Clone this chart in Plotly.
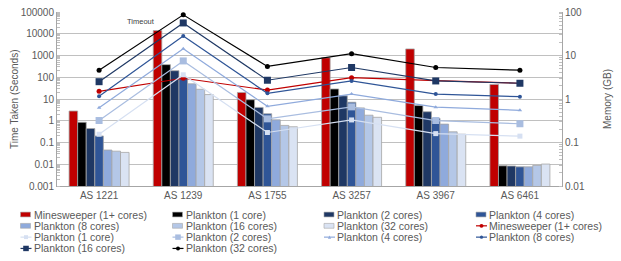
import plotly.graph_objects as go

categories = ["AS 1221", "AS 1239", "AS 1755", "AS 3257", "AS 3967", "AS 6461"]

# Time taken (seconds) - bars, left axis
time_minesweeper = [2.8, 14000, 20, 790, 2000, 47]
time_p1 = [0.85, 380, 9.3, 29, 5.0, 0.0085]
time_p2 = [0.44, 200, 4.1, 14, 2.6, 0.0083]
time_p4 = [0.20, 95, 2.1, 7.1, 1.3, 0.0076]
time_p8 = [0.045, 50, 1.1, 3.9, 0.70, 0.0076]
time_p16 = [0.040, 28, 0.61, 1.8, 0.31, 0.0089]
time_p32 = [0.035, 16, 0.53, 1.44, 0.24, 0.0102]

# Memory (GB) - lines, right axis
mem_minesweeper = [1.5, 3.0, 1.6, 3.1, 2.65, 2.3]
mem_p1 = [0.155, 3.6, 0.17, 0.33, 0.16, 0.14]
mem_p2 = [0.32, 7.5, 0.35, 0.66, 0.32, 0.27]
mem_p4 = [0.63, 14.3, 0.68, 1.3, 0.65, 0.55]
mem_p8 = [1.15, 28, 1.35, 2.6, 1.3, 1.13]
mem_p16 = [2.5, 56, 2.7, 5.3, 2.6, 2.3]
mem_p32 = [4.6, 86, 5.6, 11, 5.3, 4.6]

left_tickvals = [0.001, 0.01, 0.1, 1, 10, 100, 1000, 10000, 100000]
left_ticktext = ["0.001", "0.01", "0.1", "1", "10", "100", "1000", "10000", "100000"]
right_tickvals = [0.01, 0.1, 1, 10, 100]
right_ticktext = ["0.01", "0.1", "1", "10", "100"]

bar_series = [
    ("Minesweeper (1+ cores)", time_minesweeper, "#C00000"),
    ("Plankton (1 core)", time_p1, "#000000"),
    ("Plankton (2 cores)", time_p2, "#1F3864"),
    ("Plankton (4 cores)", time_p4, "#2F5597"),
    ("Plankton (8 cores)", time_p8, "#8FAADC"),
    ("Plankton (16 cores)", time_p16, "#B4C7E7"),
    ("Plankton (32 cores)", time_p32, "#DAE3F3"),
]
# name, values, line color, marker symbol, marker size
line_series = [
    ("Minesweeper (1+ cores)", mem_minesweeper, "#C00000", "circle", 5),
    ("Plankton (1 core)", mem_p1, "#D6E0F2", "square", 5),
    ("Plankton (2 cores)", mem_p2, "#A9BDE0", "square", 7),
    ("Plankton (4 cores)", mem_p4, "#8FAADC", "triangle-up", 4),
    ("Plankton (8 cores)", mem_p8, "#2F5597", "circle", 4),
    ("Plankton (16 cores)", mem_p16, "#1F3864", "square", 7),
    ("Plankton (32 cores)", mem_p32, "#000000", "circle", 5),
]

fig = go.Figure()
for name, vals, col in bar_series:
    fig.add_trace(go.Bar(x=categories, y=vals, name=name, marker=dict(color=col, line=dict(color="#A6A6A6", width=0.8)),
                         showlegend=False))
for name, vals, col, sym, sz in line_series:
    fig.add_trace(go.Scatter(x=categories, y=vals, name=name, yaxis="y2", mode="lines+markers",
                             line=dict(color=col, width=1.2), marker=dict(color=col, symbol=sym, size=sz),
                             showlegend=False))

W, H = 621, 261
L, R, T, B = 57, 562, 6, 186


def px(x):
    return (x - L) / (R - L)


def py(y):
    return (B - y) / (B - T)


shapes = []
annotations = []

# manual legend
legend_entries = [("bar", s) for s in bar_series] + [("line", s) for s in line_series]
col_x = [20.5, 172.5, 324, 476]
row_y = [215.5, 227.2, 238.9, 250.6]
for i, (kind, s) in enumerate(legend_entries):
    r, c = divmod(i, 4)
    x0 = col_x[c]
    yc = row_y[r]
    if kind == "bar":
        shapes.append(dict(type="rect", xref="paper", yref="paper", x0=px(x0), x1=px(x0 + 10),
                           y0=py(yc + 2.5), y1=py(yc - 2.5), fillcolor=s[2],
                           line=dict(color="#A6A6A6", width=0.6), layer="above"))
    else:
        col = s[2]
        shapes.append(dict(type="line", xref="paper", yref="paper", x0=px(x0), x1=px(x0 + 11),
                           y0=py(yc), y1=py(yc), line=dict(color=col, width=1.2), layer="above"))
        h = s[4] / 2.0 * 0.8
        xm = x0 + 5.5
        if s[3] == "circle":
            shapes.append(dict(type="circle", xref="paper", yref="paper", x0=px(xm - h), x1=px(xm + h),
                               y0=py(yc + h), y1=py(yc - h), fillcolor=col, line=dict(color=col, width=0),
                               layer="above"))
        elif s[3] == "square":
            shapes.append(dict(type="rect", xref="paper", yref="paper", x0=px(xm - h), x1=px(xm + h),
                               y0=py(yc + h), y1=py(yc - h), fillcolor=col, line=dict(color=col, width=0),
                               layer="above"))
        else:
            path = "M %f,%f L %f,%f L %f,%f Z" % (px(xm - h), py(yc + h), px(xm + h), py(yc + h), px(xm), py(yc - h))
            shapes.append(dict(type="path", xref="paper", yref="paper", path=path, fillcolor=col,
                               line=dict(color=col, width=0), layer="above"))
    annotations.append(dict(text=s[0], xref="paper", yref="paper", x=px(x0 + 11), y=py(yc),
                            xanchor="left", yanchor="middle", showarrow=False,
                            font=dict(size=10.5, color="#595959")))

annotations.append(dict(text="Timeout", xref="paper", yref="paper", x=px(141), y=py(16),
                        xanchor="center", yanchor="middle", showarrow=False,
                        font=dict(size=7.5, color="#404040")))
annotations.append(dict(text="Time Taken (Seconds)", xref="paper", yref="paper", x=px(14), y=py(96),
                        xanchor="center", yanchor="middle", showarrow=False, textangle=-90,
                        font=dict(size=10, color="#595959")))
annotations.append(dict(text="Memory (GB)", xref="paper", yref="paper", x=px(607), y=py(96),
                        xanchor="center", yanchor="middle", showarrow=False, textangle=-90,
                        font=dict(size=10, color="#595959")))

fig.update_layout(
    width=W, height=H,
    margin=dict(l=L, r=W - R, t=T, b=H - B),
    paper_bgcolor="white", plot_bgcolor="white",
    font=dict(family="Liberation Sans, Arial, sans-serif", size=10, color="#595959"),
    barmode="group", bargap=0.287, bargroupgap=0,
    showlegend=False,
    shapes=shapes, annotations=annotations,
    xaxis=dict(showline=True, linecolor="#A6A6A6", linewidth=1, ticks="", showgrid=False,
               tickfont=dict(size=10, color="#595959")),
    yaxis=dict(type="log", range=[-3, 5], tickvals=left_tickvals, ticktext=left_ticktext,
               showgrid=True, gridcolor="#C0C0C0", gridwidth=1.2, showline=True, linecolor="#A6A6A6",
               linewidth=1, ticks="", zeroline=False, tickfont=dict(size=10, color="#595959"),
               minor=dict(ticks="inside", ticklen=3, tickcolor="#BFBFBF", dtick="D1", showgrid=False)),
    yaxis2=dict(type="log", range=[-2, 2], overlaying="y", side="right", tickvals=right_tickvals,
                ticktext=right_ticktext, showgrid=False, showline=True, linecolor="#A6A6A6", linewidth=1,
                ticks="", zeroline=False, tickfont=dict(size=10, color="#595959"),
                minor=dict(ticks="inside", ticklen=3, tickcolor="#BFBFBF", dtick="D1", showgrid=False)),
)

fig.write_html("out.html", config={"displayModeBar": False},
               post_script="document.body.style.margin='0';document.body.style.padding='0';")
